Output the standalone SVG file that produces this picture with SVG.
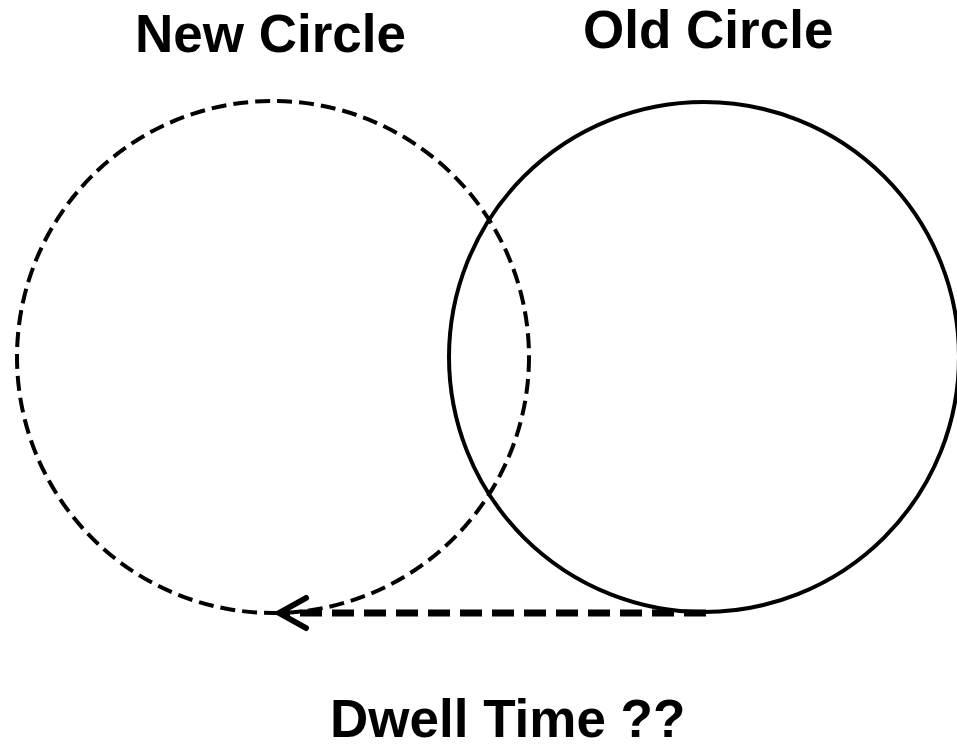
<svg xmlns="http://www.w3.org/2000/svg" width="957" height="745" viewBox="0 0 957 745">
<style>
.lbl{font-family:"Liberation Sans",Arial,sans-serif;font-weight:bold;font-size:53px;fill:#000}
.c{fill:none;stroke:#000;stroke-width:4}
</style>
<rect width="957" height="745" fill="#fff"/>
<g id="new-circle">
<circle class="c" cx="273" cy="357" r="256" stroke-dasharray="15 7"/>
<text class="lbl" x="135" y="52">New Circle</text>
</g>
<g id="old-circle">
<circle class="c" cx="704" cy="357" r="255"/>
<text class="lbl" x="583" y="48">Old Circle</text>
</g>
<g id="connectors">
<line x1="706" y1="613" x2="282" y2="613" stroke="#000" stroke-width="7" stroke-dasharray="22 10"/>
<polyline points="306,598 279,613 306,628" fill="none" stroke="#000" stroke-width="6" stroke-linecap="round" stroke-linejoin="round"/>
</g>
<g id="dwell-label">
<text class="lbl" x="330" y="737">Dwell Time ??</text>
</g>
</svg>
